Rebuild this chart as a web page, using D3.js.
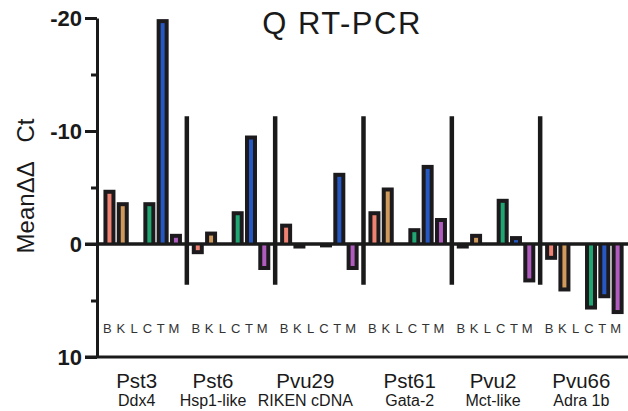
<!DOCTYPE html>
<html>
<head>
<meta charset="utf-8">
<script src="https://cdnjs.cloudflare.com/ajax/libs/d3/7.8.5/d3.min.js"></script>
<style>
  body { margin: 0; background: #fff; }
  svg { display: block; font-family: Arial, "Liberation Sans", Helvetica, sans-serif; }
</style>
</head>
<body>
<svg width="628" height="411"></svg>
<script>
// primers / genes along the bottom
const groups = ["Pst3", "Pst6", "Pvu29", "Pst61", "Pvu2", "Pvu66"];
const genes = ["Ddx4", "Hsp1-like", "RIKEN cDNA", "Gata-2", "Mct-like", "Adra 1b"];
const tissues = ["B", "K", "L", "C", "T", "M"];

// mean delta-delta Ct per tissue (negative = up on this inverted axis)
const valB = [-4.8, 0.9, -1.8, -2.9, 0.4, 1.4];
const valK = [-3.7, -1.1, 0.4, -5.0, -0.9, 4.2];
const valL = [null, null, null, null, null, null];
const valC = [-3.7, -2.9, 0.3, -1.4, -4.0, 5.8];
const valT = [-19.9, -9.6, -6.3, -7.0, -0.7, 4.8];
const valM = [-0.9, 2.3, 2.3, -2.3, 3.4, 6.2];

// the black dividers between groups
const dividerTop = -11.3;
const dividerBottom = 3.6;

const majorTicks = [-20, -10, 0, 10];
const minorTicks = [-15, -5, 5];

const colors = {B: "#f08272", K: "#cf9a5c", L: "#999", C: "#1fa673", T: "#2558c2", M: "#b05cbf"};
const labelNudge = [-6, -18, -14, 2, -3, -3];

const series = {B: valB, K: valK, L: valL, C: valC, T: valT, M: valM};

const svg = d3.select("svg");
const axisX = 97;

const y = d3.scaleLinear().domain([-20, 10]).range([18, 357]);

const x0 = d3.scaleBand().domain(groups).range([98.5, 628.5]);
const x1 = d3.scaleBand().domain(tissues).range([4.3, 84.1]);

// flatten
const bars = [];
groups.forEach(function (g, gi) {
    tissues.forEach(function (t) {
        const v = series[t][gi];
        if (v != null) bars.push({group: g, tissue: t, value: v});
    });
});

// zero line and bottom line
svg.append("line")
    .attr("x1", axisX - 12).attr("x2", 628)
    .attr("y1", y(0)).attr("y2", y(0))
    .attr("stroke", "#1a1a1a").attr("stroke-width", 3);
svg.append("line")
    .attr("x1", axisX - 12).attr("x2", 628)
    .attr("y1", y(10)).attr("y2", y(10))
    .attr("stroke", "#1a1a1a").attr("stroke-width", 3);

// dividers
svg.append("g")
    .selectAll("line")
    .data(groups.slice(1))
    .enter().append("line")
    .attr("x1", d => x0(d)).attr("x2", d => x0(d))
    .attr("y1", y(dividerTop)).attr("y2", y(dividerBottom))
    .attr("stroke", "#1a1a1a").attr("stroke-width", 4.5);

// bars: black body with a thin coloured core
const bw = 12, core = 4, edge = 4;
const barG = svg.append("g")
    .selectAll("g")
    .data(bars)
    .enter().append("g")
    .attr("transform", d => "translate(" + (x0(d.group) + x1(d.tissue) + x1.bandwidth() / 2) + ",0)");

barG.append("rect")
    .attr("x", -bw / 2)
    .attr("width", bw)
    .attr("y", d => y(Math.min(d.value, 0)))
    .attr("height", d => Math.abs(y(d.value) - y(0)))
    .attr("fill", "#1c1a1c");

barG.filter(d => Math.abs(y(d.value) - y(0)) > edge + 2)
    .append("rect")
    .attr("x", -core / 2)
    .attr("width", core)
    .attr("y", d => d.value < 0 ? y(d.value) + edge : y(0))
    .attr("height", d => Math.abs(y(d.value) - y(0)) - edge)
    .attr("fill", d => colors[d.tissue]);

// redraw the zero line over the bar roots
svg.append("line")
    .attr("x1", axisX).attr("x2", 628)
    .attr("y1", y(0)).attr("y2", y(0))
    .attr("stroke", "#1a1a1a").attr("stroke-width", 3);

// y axis
const yAxis = svg.append("g")
    .attr("transform", "translate(" + axisX + ",0)")
    .call(d3.axisLeft(y).tickValues(majorTicks).tickSize(12).tickSizeOuter(0).tickPadding(3).tickFormat(d3.format("d")));
yAxis.select(".domain").attr("stroke", "#1a1a1a").attr("stroke-width", 3);
yAxis.selectAll(".tick line").attr("stroke", "#1a1a1a").attr("stroke-width", 3);
yAxis.selectAll(".tick text")
    .attr("fill", "#1a1a1a")
    .style("font-size", "22px")
    .style("font-weight", "bold")
    .style("font-family", "Arial, 'Liberation Sans', sans-serif")
    .attr("dy", "0.35em")
    .text(d => d < 0 ? "-" + Math.abs(d) : d);

const yMinor = svg.append("g")
    .attr("transform", "translate(" + axisX + ",0)")
    .call(d3.axisLeft(y).tickValues(minorTicks).tickSize(6).tickSizeOuter(0).tickFormat(""));
yMinor.select(".domain").remove();
yMinor.selectAll(".tick line").attr("stroke", "#1a1a1a").attr("stroke-width", 3);

// tissue letters under each group
svg.append("g")
    .selectAll("g")
    .data(groups)
    .enter().append("g")
    .attr("transform", d => "translate(" + x0(d) + ",0)")
    .selectAll("text")
    .data(tissues)
    .enter().append("text")
    .attr("x", d => x1(d) + x1.bandwidth() / 2 - 2)
    .attr("y", 333)
    .attr("text-anchor", "middle")
    .attr("fill", "#333")
    .style("font-size", "13px")
    .text(d => d);

// group labels
const lab = svg.append("g")
    .selectAll("g")
    .data(groups)
    .enter().append("g")
    .attr("transform", (d, i) => "translate(" + (x0(d) + x0.bandwidth() / 2 + labelNudge[i]) + ",0)");
lab.append("text")
    .attr("y", 388)
    .attr("text-anchor", "middle")
    .attr("fill", "#1a1a1a")
    .style("font-size", "20.5px")
    .text(d => d);
lab.append("text")
    .attr("y", 406)
    .attr("text-anchor", "middle")
    .attr("fill", "#1a1a1a")
    .style("font-size", "16px")
    .text((d, i) => genes[i]);

// title
svg.append("text")
    .attr("x", 342).attr("y", 34)
    .attr("text-anchor", "middle")
    .attr("fill", "#1a1a1a")
    .style("font-size", "31px")
    .style("letter-spacing", "1.5px")
    .text("Q RT-PCR");

// y title
svg.append("text")
    .attr("transform", "translate(34,186) rotate(-90)")
    .attr("text-anchor", "middle")
    .attr("fill", "#1a1a1a")
    .style("font-size", "24px")
    .style("white-space", "pre")
    .text("Mean\u0394\u0394   Ct");
</script>
</body>
</html>
